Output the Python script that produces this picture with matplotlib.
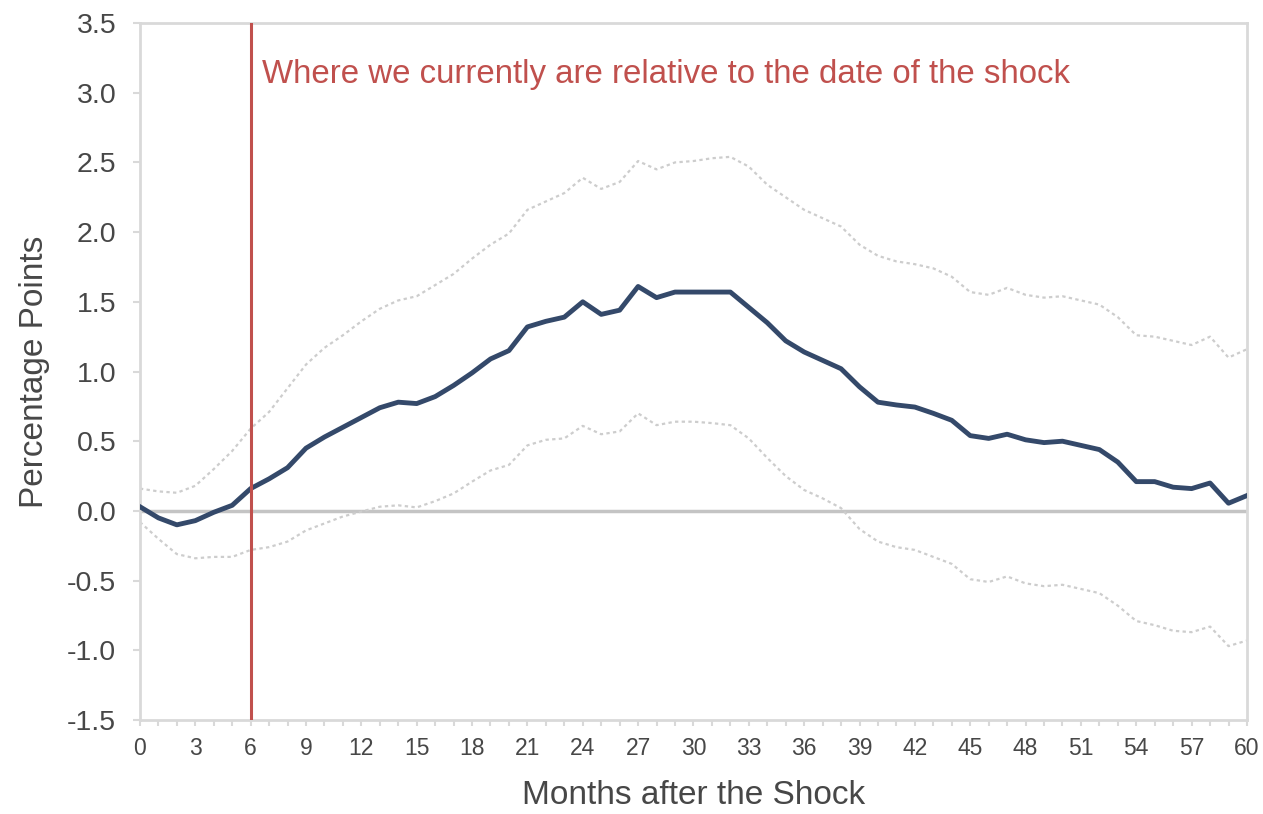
import numpy as np
import matplotlib
matplotlib.use("Agg")
import matplotlib.pyplot as plt
from matplotlib.ticker import MultipleLocator

plt.rcParams['font.family'] = ['Liberation Sans', 'DejaVu Sans']

# months after the shock
months = np.arange(0, 61)

# central estimate (percentage points)
central = [0.03, -0.05, -0.10, -0.07, -0.01, 0.04, 0.16, 0.23, 0.31, 0.45,
           0.53, 0.60, 0.67, 0.74, 0.78, 0.77, 0.82, 0.90, 0.99, 1.09,
           1.15, 1.32, 1.36, 1.39, 1.50, 1.41, 1.44, 1.61, 1.53, 1.57,
           1.57, 1.57, 1.57, 1.46, 1.35, 1.22, 1.14, 1.08, 1.02, 0.89,
           0.78, 0.76, 0.745, 0.70, 0.65, 0.54, 0.52, 0.55, 0.51, 0.49,
           0.50, 0.47, 0.44, 0.35, 0.21, 0.21, 0.17, 0.16, 0.20, 0.055,
           0.11]

# upper band
upper = [0.16, 0.14, 0.13, 0.18, 0.30, 0.43, 0.59, 0.71, 0.88, 1.05,
         1.17, 1.26, 1.36, 1.45, 1.51, 1.54, 1.62, 1.70, 1.81, 1.91,
         1.99, 2.16, 2.22, 2.28, 2.39, 2.31, 2.36, 2.51, 2.45, 2.50,
         2.51, 2.53, 2.54, 2.47, 2.34, 2.25, 2.16, 2.10, 2.04, 1.91,
         1.83, 1.79, 1.77, 1.74, 1.68, 1.57, 1.55, 1.60, 1.55, 1.53,
         1.54, 1.51, 1.48, 1.39, 1.26, 1.25, 1.22, 1.19, 1.25, 1.10,
         1.16]

# lower band
lower = [-0.08, -0.20, -0.31, -0.34, -0.33, -0.33, -0.28, -0.26, -0.22, -0.14,
         -0.09, -0.04, -0.005, 0.03, 0.04, 0.025, 0.07, 0.125, 0.21, 0.29,
         0.33, 0.47, 0.51, 0.52, 0.61, 0.55, 0.57, 0.70, 0.615, 0.64,
         0.64, 0.63, 0.615, 0.52, 0.38, 0.25, 0.15, 0.09, 0.02, -0.13,
         -0.22, -0.26, -0.28, -0.33, -0.38, -0.49, -0.51, -0.47, -0.52, -0.54,
         -0.53, -0.56, -0.59, -0.68, -0.79, -0.82, -0.86, -0.87, -0.83, -0.97,
         -0.93]

current_month = 6
note = "Where we currently are relative to the date of the shock"

text_col = "#474747"
frame_col = "#d9d9d9"

fig = plt.figure(figsize=(12.63, 8.14), dpi=100)
ax = fig.add_axes([0.1108, 0.1155, 0.8765, 0.8562])

ax.axhline(0, color="#c4c4c4", linewidth=2.5, zorder=1)
ax.plot(months, upper, color="#cdcdcd", linestyle=(0, (1.5, 1.5)), linewidth=1.6, zorder=2)
ax.plot(months, lower, color="#cdcdcd", linestyle=(0, (1.5, 1.5)), linewidth=1.6, zorder=2)
ax.plot(months, central, color="#34496a", linewidth=3.5, zorder=3)
ax.axvline(current_month, color="#c0504d", linewidth=2.2, zorder=4)
ax.text(current_month + 0.6, 3.13, note, color="#c0504d", fontsize=23.8,
        va="center", ha="left")

ax.set_xlim(0, 60)
ax.set_ylim(-1.5, 3.5)
ax.xaxis.set_major_locator(MultipleLocator(3))
ax.xaxis.set_minor_locator(MultipleLocator(1))
ax.yaxis.set_major_locator(MultipleLocator(0.5))
ax.yaxis.set_major_formatter(plt.FormatStrFormatter("%.1f"))

for s in ax.spines.values():
    s.set_color(frame_col)
    s.set_linewidth(2)

ax.tick_params(axis="x", which="both", direction="out", length=4, width=1.5,
               color=frame_col, labelsize=16.5, labelcolor=text_col, pad=8)
ax.tick_params(axis="y", which="major", direction="out", length=5, width=1.5,
               color=frame_col, labelsize=20.5, labelcolor=text_col, pad=12)

ax.set_xlabel("Months after the Shock", fontsize=24, color=text_col, labelpad=15)
ax.set_ylabel("Percentage Points", fontsize=24, color=text_col, labelpad=12)

fig.savefig("out.png", dpi=100)
